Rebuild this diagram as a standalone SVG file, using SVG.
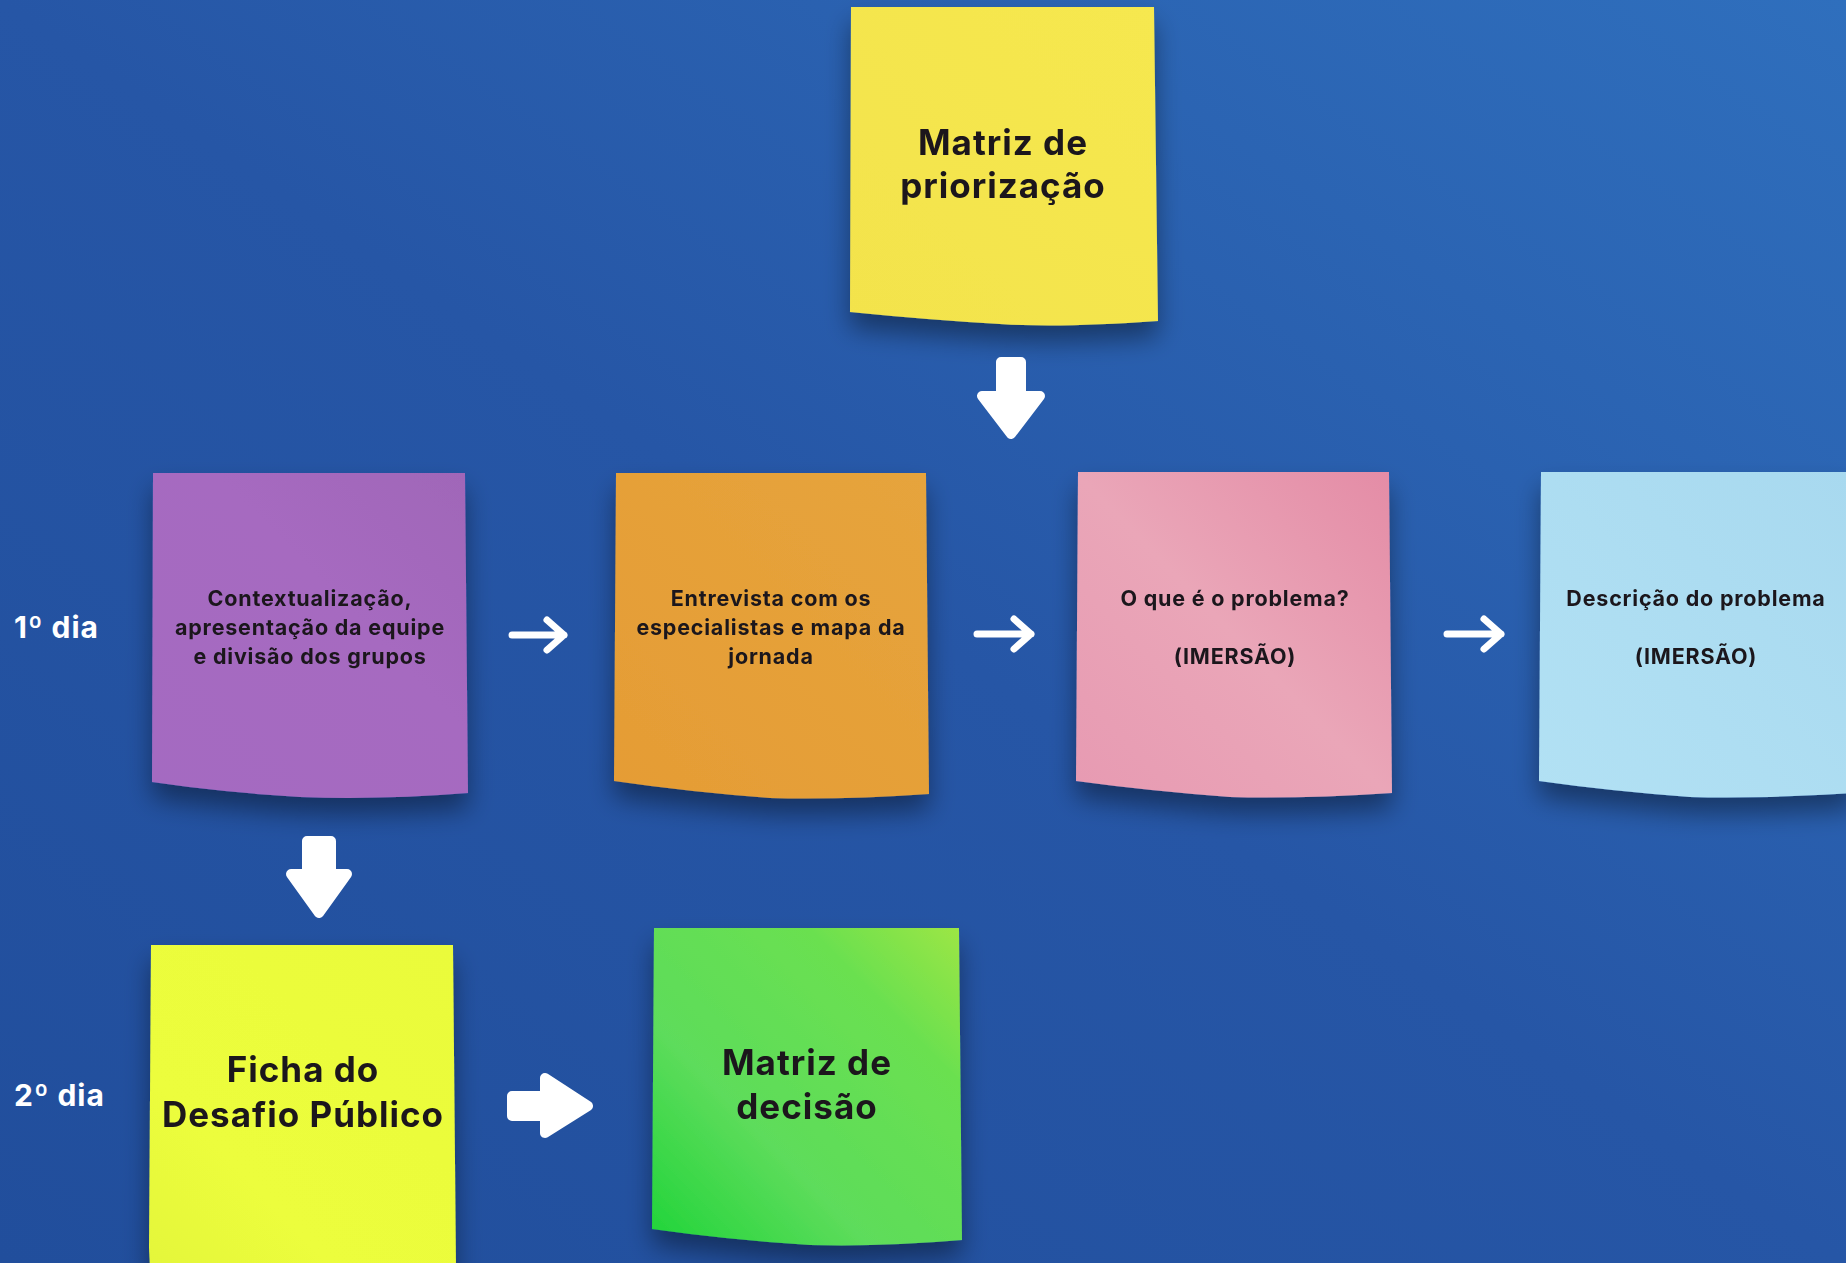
<svg xmlns="http://www.w3.org/2000/svg" width="1846" height="1263" viewBox="0 0 1846 1263">
<defs>
<linearGradient id="bg" x1="0" y1="1" x2="1" y2="0">
<stop offset="0" stop-color="#214e9c"/>
<stop offset="0.5" stop-color="#2656a6"/>
<stop offset="1" stop-color="#2f6fbd"/>
</linearGradient>
<filter id="sh" x="-20%" y="-20%" width="140%" height="150%">
<feGaussianBlur in="SourceAlpha" stdDeviation="13"/>
<feOffset dx="0" dy="16" result="b"/>
<feComponentTransfer><feFuncA type="linear" slope="0.4"/></feComponentTransfer>
<feMerge><feMergeNode/><feMergeNode in="SourceGraphic"/></feMerge>
</filter>
<linearGradient id="gYel" x1="0" y1="1" x2="1" y2="0"><stop offset="0" stop-color="#f3e34c"/><stop offset="1" stop-color="#f6e84f"/></linearGradient>
<linearGradient id="gPur" x1="0" y1="1" x2="1" y2="0"><stop offset="0" stop-color="#a46bc1"/><stop offset="0.6" stop-color="#a66ac0"/><stop offset="1" stop-color="#a066b8"/></linearGradient>
<linearGradient id="gOra" x1="0" y1="1" x2="1" y2="0"><stop offset="0" stop-color="#e59c35"/><stop offset="1" stop-color="#e6a43c"/></linearGradient>
<linearGradient id="gPin" x1="0" y1="1" x2="1" y2="0"><stop offset="0" stop-color="#e79ab2"/><stop offset="0.5" stop-color="#eaa6b8"/><stop offset="1" stop-color="#e48ca6"/></linearGradient>
<linearGradient id="gBlu" x1="0" y1="1" x2="1" y2="0"><stop offset="0" stop-color="#b2e1f4"/><stop offset="1" stop-color="#a8d9ef"/></linearGradient>
<linearGradient id="gLim" x1="0" y1="1" x2="1" y2="0"><stop offset="0" stop-color="#e4f63a"/><stop offset="0.3" stop-color="#ecfd3c"/><stop offset="1" stop-color="#eafb3a"/></linearGradient>
<linearGradient id="gGrn" x1="0" y1="1" x2="1" y2="0"><stop offset="0" stop-color="#1fd439"/><stop offset="0.35" stop-color="#5ddc5b"/><stop offset="0.75" stop-color="#6ae050"/><stop offset="1" stop-color="#9de644"/></linearGradient>
</defs>
<style>
.t{font-family:"Inter","Liberation Sans",sans-serif;font-weight:700;fill:#1b191e;text-anchor:middle}
.s{font-size:21.5px;letter-spacing:0.8px}
.b{font-size:35px;letter-spacing:1px}
.day{font-family:"Inter","Liberation Sans",sans-serif;font-weight:700;fill:#ffffff;font-size:30px;letter-spacing:1px}
.fat{fill:#ffffff;stroke:#ffffff;stroke-width:10;stroke-linejoin:round}
.thin{fill:none;stroke:#ffffff;stroke-width:7;stroke-linecap:round;stroke-linejoin:round}
</style>
<rect x="0" y="0" width="1846" height="1263" fill="url(#bg)"/>

<g id="node-matriz-priorizacao" filter="url(#sh)">
<path d="M851,7 H1154 L1158,321 Q1060,328 1000,324 Q930,320 850,312 Z" fill="url(#gYel)"/>
<text class="t b" x="1003" y="155">Matriz de</text>
<text class="t b" x="1003" y="198">priorização</text>
</g>

<g id="node-contextualizacao" filter="url(#sh)">
<path d="M153,473 H465 L468,793 Q380,800 300,797 Q220,792 152,782 Z" fill="url(#gPur)"/>
<text class="t s" x="310" y="606">Contextualização,</text>
<text class="t s" x="310" y="635">apresentação da equipe</text>
<text class="t s" x="310" y="664">e divisão dos grupos</text>
</g>

<g id="node-entrevista" filter="url(#sh)">
<path d="M616,473 H926 L929,794 Q840,800 770,798 Q690,792 614,781 Z" fill="url(#gOra)"/>
<text class="t s" x="771" y="606">Entrevista com os</text>
<text class="t s" x="771" y="635">especialistas e mapa da</text>
<text class="t s" x="771" y="664">jornada</text>
</g>

<g id="node-problema" filter="url(#sh)">
<path d="M1078,472 H1389 L1392,793 Q1300,799 1230,797 Q1150,791 1076,781 Z" fill="url(#gPin)"/>
<text class="t s" x="1235" y="606">O que é o problema?</text>
<text class="t s" x="1235" y="664">(IMERSÃO)</text>
</g>

<g id="node-descricao" filter="url(#sh)">
<path d="M1541,472 H1852 L1854,793 Q1760,799 1690,797 Q1610,791 1539,781 Z" fill="url(#gBlu)"/>
<text class="t s" x="1696" y="606">Descrição do problema</text>
<text class="t s" x="1696" y="664">(IMERSÃO)</text>
</g>

<g id="node-ficha" filter="url(#sh)">
<path d="M151,945 H453 L456,1268 H150 L149,1248 Z" fill="url(#gLim)"/>
<text class="t b" x="303" y="1082">Ficha do</text>
<text class="t b" x="303" y="1127">Desafio Público</text>
</g>

<g id="node-matriz-decisao" filter="url(#sh)">
<path d="M654,928 H959 L962,1240 Q880,1247 810,1245 Q730,1240 652,1229 Z" fill="url(#gGrn)"/>
<text class="t b" x="807" y="1075">Matriz de</text>
<text class="t b" x="807" y="1119">decisão</text>
</g>

<g id="label-dia1"><text class="day" x="14" y="638">1º dia</text></g>
<g id="label-dia2"><text class="day" x="14" y="1106">2º dia</text></g>

<g id="connectors">
<path class="fat" d="M1001,362 H1021 V396 H1040 L1011,434 L982,396 H1001 Z"/>
<path class="fat" d="M307,841 H331 V874 H347 L319,913 L291,874 H307 Z"/>
<path class="fat" d="M512,1096 H545 V1078 L588,1106 L545,1133 V1116 H512 Z"/>
<path class="thin" d="M512,635 H564 M547,620 L564,635 L547,650"/>
<path class="thin" d="M977,634 H1031 M1014,619 L1031,634 L1014,649"/>
<path class="thin" d="M1447,634 H1501 M1484,619 L1501,634 L1484,649"/>
</g>
</svg>
